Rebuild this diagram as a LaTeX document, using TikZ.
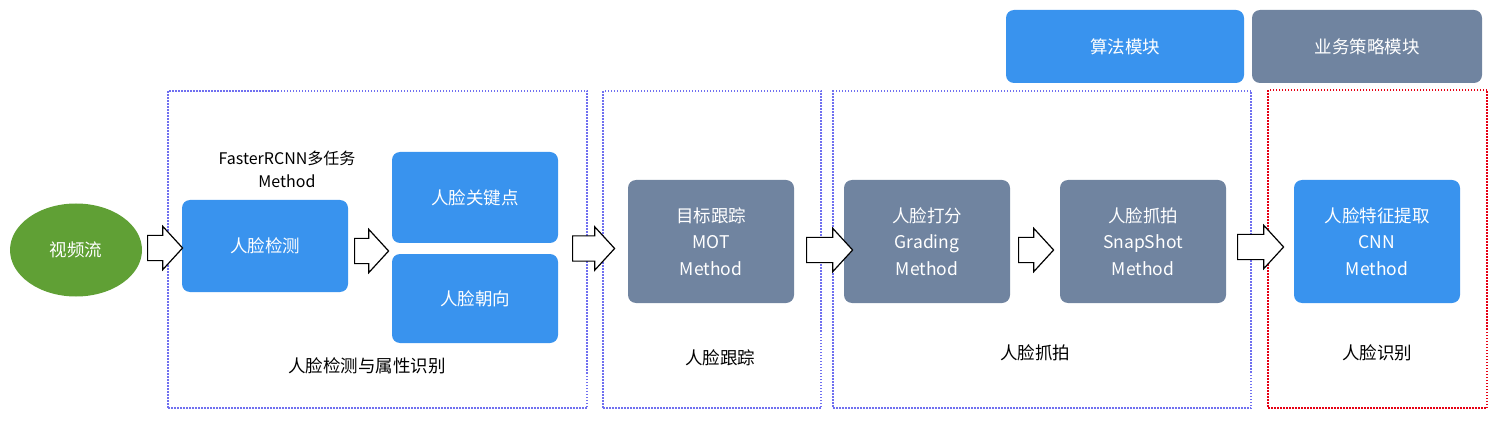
\documentclass[tikz,border=0pt]{standalone}
\usepackage{fontspec}
\setmainfont{Noto Sans CJK SC}
\usetikzlibrary{shapes.geometric,shapes.arrows}
\definecolor{algblue}{RGB}{57,147,238}
\definecolor{slate}{RGB}{112,132,160}
\definecolor{vgreen}{RGB}{96,160,53}
\definecolor{dotblue}{RGB}{112,112,240}
\definecolor{dotred}{RGB}{230,0,20}
\begin{document}
\begin{tikzpicture}[x=1pt,y=-1pt,
  box/.style={rounded corners=8pt,minimum width=166pt,minimum height=123pt,text=white,align=center,inner sep=0pt,
    font=\fontsize{17.5}{26.5}\selectfont},
  algbox/.style={box,fill=algblue},
  bizbox/.style={box,fill=slate},
  frame/.style={draw=dotblue,line width=1.5pt,dash pattern=on 1.5pt off 1.5pt,inner sep=0pt},
  redframe/.style={frame,draw=dotred},
  lbl/.style={font=\fontsize{17.5}{22}\selectfont,align=center,inner sep=0pt},
  barrow/.style={single arrow,draw=black,fill=white,line width=1.2pt,inner xsep=0pt,inner ysep=12pt,
    single arrow head extend=9pt,single arrow tip angle=95,anchor=tail},
]
\useasboundingbox (0,0) rectangle (1502,422);

% frames
\node[frame,minimum width=419pt,minimum height=317pt] (f1) at (377.5,249.5) {};
\node[frame,minimum width=218pt,minimum height=317pt] (f2) at (712,249.5) {};
\node[frame,minimum width=418pt,minimum height=317pt] (f3) at (1042,249.5) {};
\node[redframe,minimum width=219pt,minimum height=318pt] (f4) at (1377.5,249) {};

% legend
\node[algbox,minimum width=238pt,minimum height=73pt] (legalg) at (1125,46.5) {算法模块};
\node[bizbox,minimum width=230pt,minimum height=73pt] (legbiz) at (1367,46.5) {业务策略模块};

% source
\node[ellipse,fill=vgreen,minimum width=132pt,minimum height=93pt,text=white,
  font=\fontsize{17.5}{20}\selectfont] (src) at (76,250) {视频流};

% stage 1
\node[lbl,font=\fontsize{16}{23}\selectfont] (frcnn) at (287,169.5) {FasterRCNN多任务\\Method};
\node[algbox,minimum height=92pt] (det) at (265,246) {人脸检测};
\node[algbox,minimum height=91pt] (kp) at (475,197.5) {人脸关键点};
\node[algbox,minimum height=89pt] (ori) at (475,298.5) {人脸朝向};
\node[lbl] (l1) at (367,366) {人脸检测与属性识别};

% stage 2
\node[bizbox] (mot) at (711,241.5) {目标跟踪\\MOT\\Method};
\node[lbl] (l2) at (720,358) {人脸跟踪};

% stage 3
\node[bizbox] (grade) at (927,241.5) {人脸打分\\Grading\\Method};
\node[bizbox] (snap) at (1143,241.5) {人脸抓拍\\SnapShot\\Method};
\node[lbl] (l3) at (1035,353) {人脸抓拍};

% stage 4
\node[algbox] (cnn) at (1377,241.5) {人脸特征提取\\CNN\\Method};
\node[lbl] (l4) at (1377,353) {人脸识别};

% block arrows
\node[barrow,minimum height=35pt] (a1) at (147,248) {};
\node[barrow,minimum height=34pt] (a2) at (354,251) {};
\node[barrow,minimum height=42pt] (a3) at (572,248.5) {};
\node[barrow,minimum height=46pt] (a4) at (806,250) {};
\node[barrow,minimum height=35pt] (a5) at (1018,250) {};
\node[barrow,minimum height=46pt] (a6) at (1237,247) {};
\end{tikzpicture}
\end{document}
